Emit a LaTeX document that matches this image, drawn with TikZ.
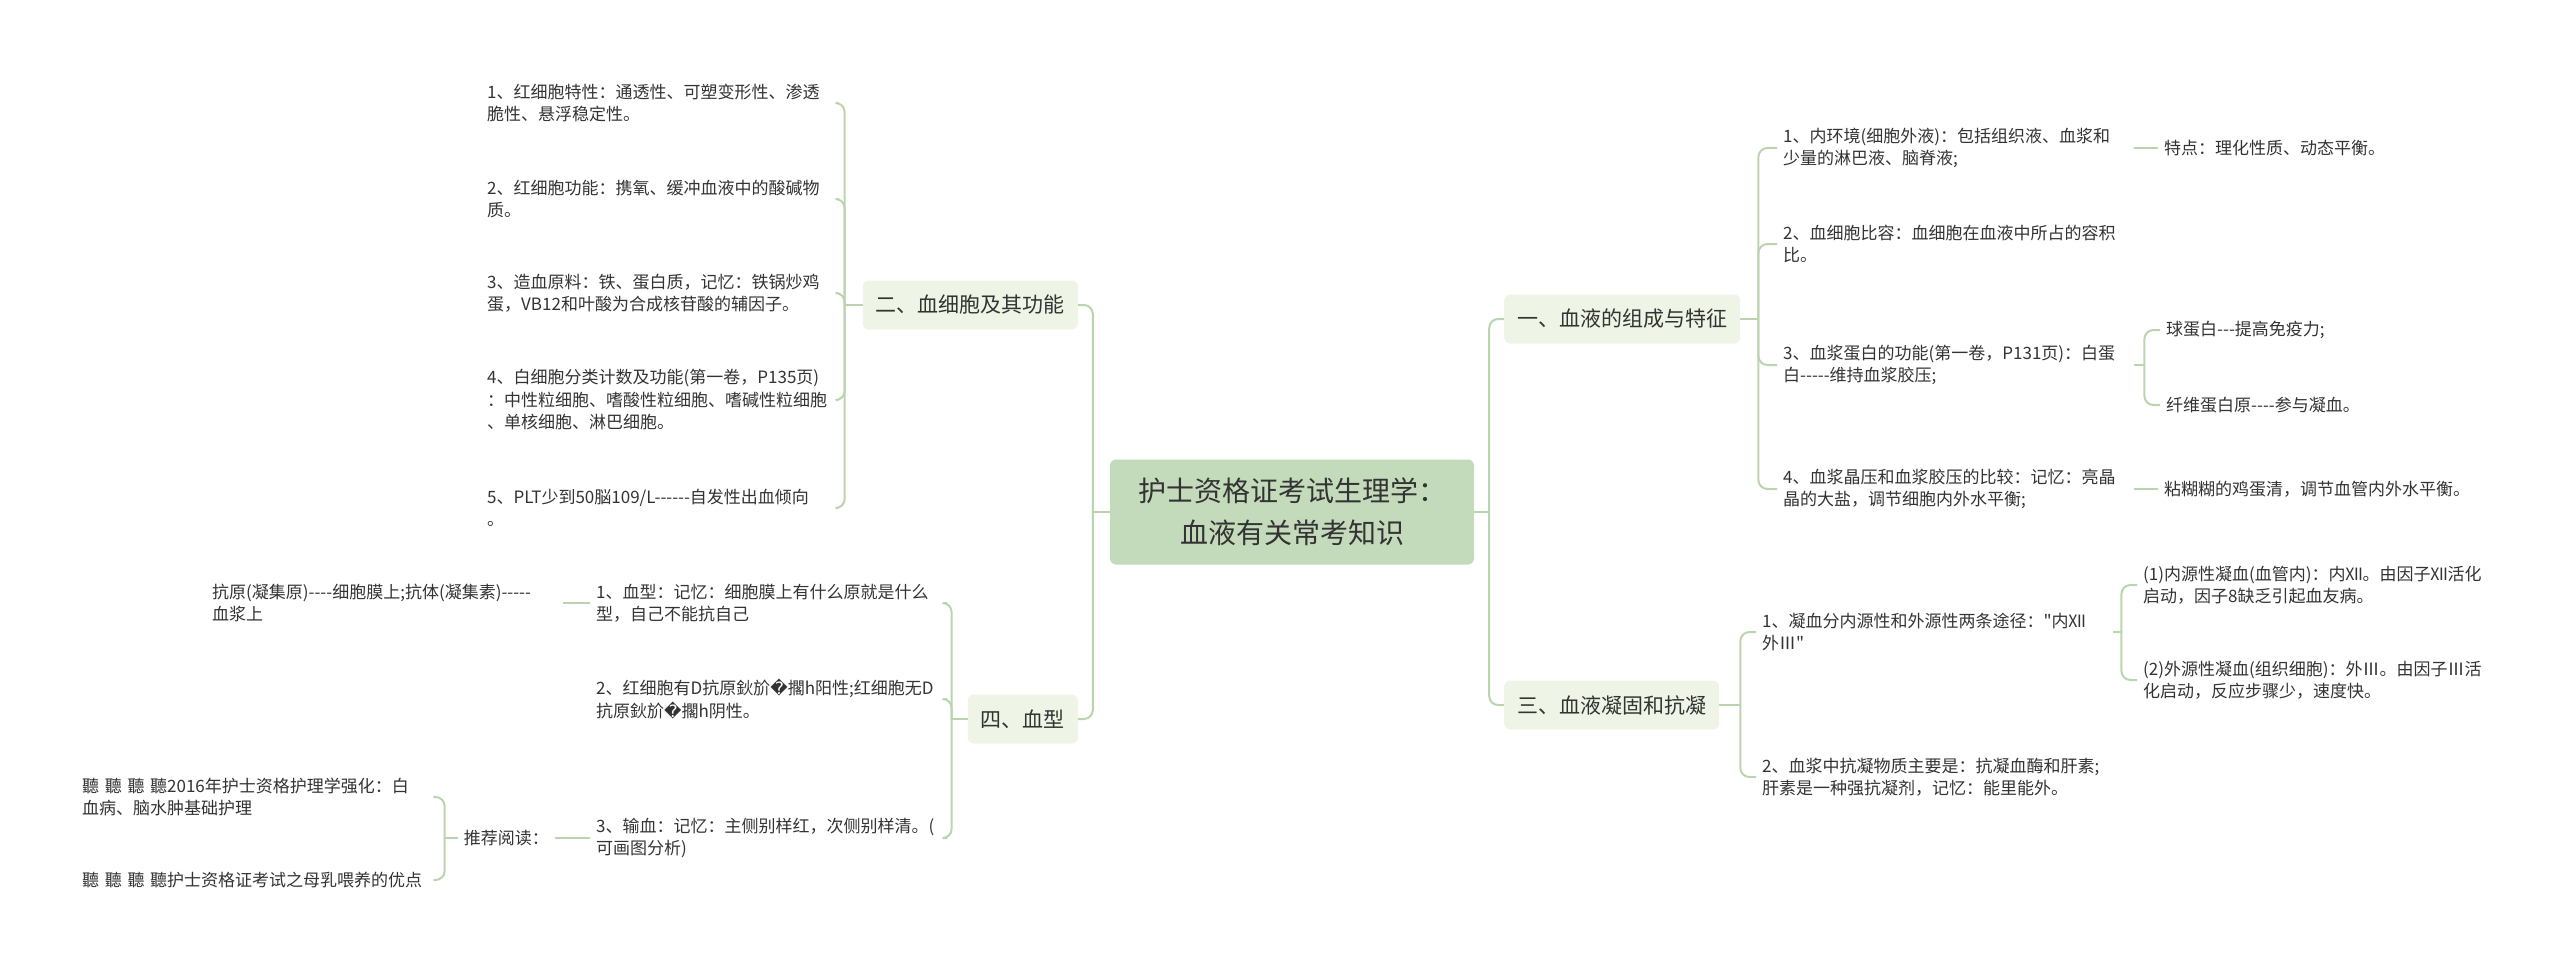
\documentclass[tikz,border=0pt]{standalone}
\usepackage{fontspec}
\setmainfont{Noto Sans CJK SC}
\newfontfamily\symfont{DejaVu Sans}
\font\qfont="Noto Sans CJK SC" at 17pt
\usetikzlibrary{positioning,calc}
\definecolor{linkgreen}{HTML}{BBD4B0}
\definecolor{rootfill}{HTML}{C3DBBA}
\definecolor{topicfill}{HTML}{EEF4E6}
\definecolor{inkgray}{HTML}{333333}
\newcommand\hy{-\kern0pt}

\begin{document}
\begin{tikzpicture}[
  x=1pt, y=-1pt,
  link/.style={draw=linkgreen, line width=2pt},
  elbow/.style={link, rounded corners=9pt},
  root/.style={fill=rootfill, rounded corners=6pt, text=inkgray,
    font=\fontsize{28}{42}\selectfont, align=center,
    minimum width=364pt, minimum height=105pt},
  topic/.style={fill=topicfill, rounded corners=6pt, text=inkgray,
    font=\fontsize{21}{26}\selectfont, inner xsep=13pt,
    minimum height=49pt},
  leaf/.style={text=inkgray, font=\fontsize{17}{22.5}\selectfont,
    align=left, inner xsep=6pt, inner ysep=2pt},
  wleaf/.style={leaf, text width=345pt},
]
\useasboundingbox (0,0) rectangle (2560,971);

% ── centre ──────────────────────────────────────────────────────────────────
\node[root] (root) at (1292,512)
  {护士资格证考试生理学：\\血液有关常考知识};

% ── main topics ─────────────────────────────────────────────────────────────
\node[topic, anchor=west] (t1) at (1504,319) {一、血液的组成与特征};
\node[topic, anchor=west] (t3) at (1504,705) {三、血液凝固和抗凝};
\node[topic, anchor=east] (t2) at (1078,305) {二、血细胞及其功能};
\node[topic, anchor=east] (t4) at (1078,719) {四、血型};

% ── right: 一 ───────────────────────────────────────────────────────────────
\node[wleaf, anchor=west] (a1) at (1777,148)
  {1、内环境(细胞外液)：包括组织液、血浆和\\少量的淋巴液、脑脊液;};
\node[wleaf, anchor=west] (a2) at (1777,244)
  {2、血细胞比容：血细胞在血液中所占的容积\\比。};
\node[wleaf, anchor=west] (a3) at (1777,365)
  {3、血浆蛋白的功能(第一卷，P131页)：白蛋\\白\hy\hy\hy\hy-维持血浆胶压;};
\node[wleaf, anchor=west] (a4) at (1777,489)
  {4、血浆晶压和血浆胶压的比较：记忆：亮晶\\晶的大盐，调节细胞内外水平衡;};

\node[leaf, anchor=west] (b1) at (2158,148) {特点：理化性质、动态平衡。};
\node[leaf, anchor=west] (c1) at (2160,330) {球蛋白\hy\hy-提高免疫力;};
\node[leaf, anchor=west] (c2) at (2160,405) {纤维蛋白原\hy\hy\hy-参与凝血。};
\node[leaf, anchor=west] (b4) at (2158,489) {粘糊糊的鸡蛋清，调节血管内外水平衡。};

% ── right: 三 ───────────────────────────────────────────────────────────────
\node[wleaf, anchor=west] (d1) at (1756,632)
  {1、凝血分内源性和外源性两条途径：{\qfont"}内Ⅻ\\外Ⅲ{\qfont"}};
\node[wleaf, anchor=west] (d2) at (1756,777)
  {2、血浆中抗凝物质主要是：抗凝血酶和肝素;\\肝素是一种强抗凝剂，记忆：能里能外。};

\node[leaf, anchor=west] (e1) at (2137,585)
  {(1)内源性凝血(血管内)：内Ⅻ。由因子Ⅻ活化\\启动，因子8缺乏引起血友病。};
\node[leaf, anchor=west] (e2) at (2137,680)
  {(2)外源性凝血(组织细胞)：外Ⅲ。由因子Ⅲ活\\化启动，反应步骤少，速度快。};

% ── left: 二 ────────────────────────────────────────────────────────────────
\node[wleaf, anchor=west] (l1) at (481,103)
  {1、红细胞特性：通透性、可塑变形性、渗透\\脆性、悬浮稳定性。};
\node[wleaf, anchor=west] (l2) at (481,199)
  {2、红细胞功能：携氧、缓冲血液中的酸碱物\\质。};
\node[wleaf, anchor=west] (l3) at (481,293)
  {3、造血原料：铁、蛋白质，记忆：铁锅炒鸡\\蛋，VB12和叶酸为合成核苷酸的辅因子。};
\node[wleaf, anchor=west] (l4) at (481,400)
  {4、白细胞分类计数及功能(第一卷，P135页)\\：中性粒细胞、嗜酸性粒细胞、嗜碱性粒细胞\\、单核细胞、淋巴细胞。};
\node[wleaf, anchor=west] (l5) at (481,508)
  {5、PLT少到50脳109/L\hy\hy\hy\hy\hy-自发性出血倾向\\。};

% ── left: 四 ────────────────────────────────────────────────────────────────
\node[wleaf, anchor=west] (f1) at (590,603)
  {1、血型：记忆：细胞膜上有什么原就是什么\\型，自己不能抗自己};
\node[wleaf, anchor=west] (f2) at (590,699)
  {2、红细胞有D抗原鈥斺{\symfont �}擱h阳性;红细胞无D\\抗原鈥斺{\symfont �}擱h阴性。};
\node[wleaf, anchor=west] (f3) at (590,838)
  {3、输血：记忆：主侧别样红，次侧别样清。(\\可画图分析)};

\node[wleaf, anchor=west] (h1) at (206,603)
  {抗原(凝集原)\hy\hy\hy-细胞膜上;抗体(凝集素)\hy\hy\hy\hy-\\血浆上};
\node[leaf, anchor=east] (r1) at (555,838) {推荐阅读：};
\node[wleaf, anchor=west] (g1) at (76,797)
  {聽 聽 聽 聽2016年护士资格护理学强化：白\\血病、脑水肿基础护理};
\node[wleaf, anchor=west] (g2) at (76,880)
  {聽 聽 聽 聽护士资格证考试之母乳喂养的优点};

% ── connectors ──────────────────────────────────────────────────────────────
% trunks out of the centre box
\coordinate (rjr) at ($(root.east)+(15,0)$);
\coordinate (rjl) at ($(root.west)+(-17,0)$);
\draw[link] (root.east) -- (rjr);
\draw[link] (root.west) -- (rjl);
\draw[elbow] (rjr) |- (t1.west);
\draw[elbow] (rjr) |- (t3.west);
\draw[elbow] (rjl) |- (t2.east);
\draw[elbow] (rjl) |- (t4.east);

% right brackets
\coordinate (t1j) at ($(t1.east)+(18,0)$);
\draw[link] (t1.east) -- (t1j);
\foreach \c in {a1,a2,a3,a4}
  \draw[elbow] (t1j) |- (\c.west);
\draw[link] (a1) -- (b1);
\draw[link] (a4) -- (b4);
\coordinate (a3j) at ($(a3.east)+(10,0)$);
\draw[link] (a3.east) -- (a3j);
\foreach \c in {c1,c2}
  \draw[elbow] (a3j) |- (\c.west);

\coordinate (t3j) at ($(t3.east)+(21,0)$);
\draw[link] (t3.east) -- (t3j);
\foreach \c in {d1,d2}
  \draw[elbow] (t3j) |- (\c.west);
\coordinate (d1j) at ($(d1.east)+(8,0)$);
\draw[link] (d1.east) -- (d1j);
\foreach \c in {e1,e2}
  \draw[elbow] (d1j) |- (\c.west);

% left brackets
\coordinate (t2j) at ($(t2.west)+(-18,0)$);
\draw[link] (t2.west) -- (t2j);
\foreach \c in {l1,l2,l3,l4,l5}
  \draw[elbow] (t2j) |- (\c.east);

\coordinate (t4j) at ($(t4.west)+(-16,0)$);
\draw[link] (t4.west) -- (t4j);
\foreach \c in {f1,f2,f3}
  \draw[elbow] (t4j) |- (\c.east);
\draw[link] (f1) -- (h1);
\draw[link] (f3) -- (r1);

\coordinate (r1j) at ($(r1.west)+(-13,0)$);
\draw[link] (r1.west) -- (r1j);
\foreach \c in {g1,g2}
  \draw[elbow] (r1j) |- (\c.east);
\end{tikzpicture}
\end{document}
